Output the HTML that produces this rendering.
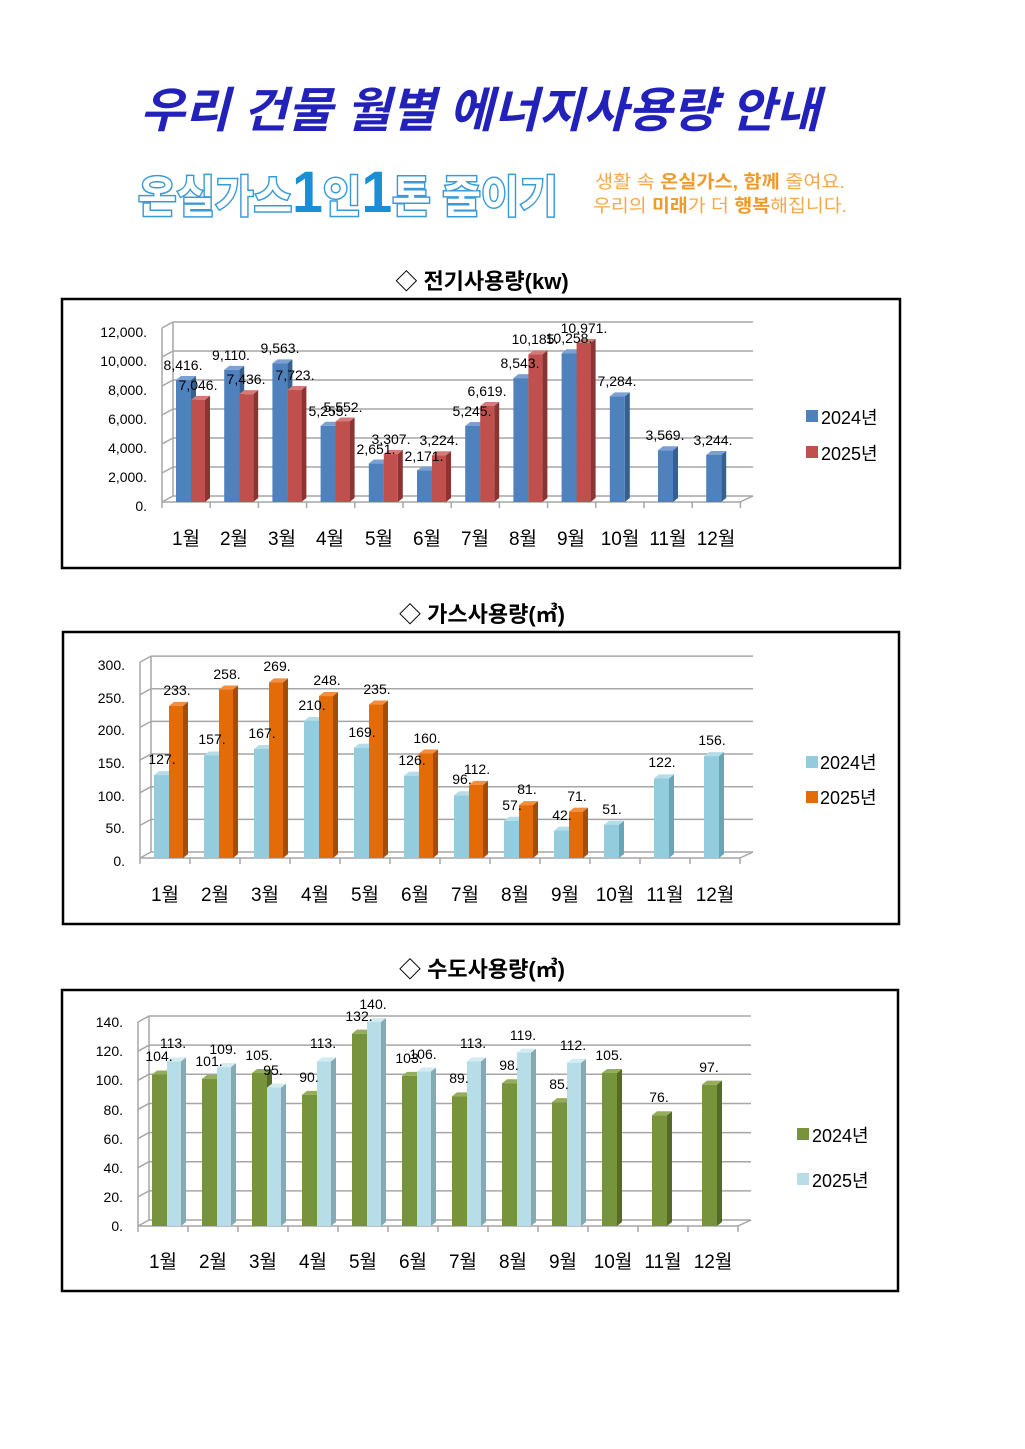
<!DOCTYPE html>
<html><head><meta charset="utf-8">
<style>
body{margin:0;background:#fff;width:1025px;height:1449px;overflow:hidden;font-family:"Liberation Sans","Noto Sans CJK KR",sans-serif}
svg{position:absolute;left:0;top:0}
</style></head><body>
<svg id="s" width="1025" height="1449" viewBox="0 0 1025 1449" font-family="'Liberation Sans','Noto Sans CJK KR',sans-serif">
<text x="480" y="127" text-anchor="middle" font-size="48" font-weight="bold" font-style="italic" fill="#2222bb" textLength="680" lengthAdjust="spacingAndGlyphs">우리 건물 월별 에너지사용량 안내</text>
<text x="348" y="212" text-anchor="middle" font-size="44" font-weight="bold" fill="#fff" stroke="#3a9ad9" stroke-width="3" paint-order="stroke" textLength="420" lengthAdjust="spacingAndGlyphs">온실가스<tspan font-size="58" fill="#1b8fd6" stroke="none">1</tspan>인<tspan font-size="58" fill="#1b8fd6" stroke="none">1</tspan>톤 줄이기</text>
<text x="720" y="188" text-anchor="middle" font-size="18" fill="#f5a94a" textLength="250" lengthAdjust="spacingAndGlyphs">생활 속 <tspan font-weight="bold" fill="#f09a2a">온실가스, 함께</tspan> 줄여요.</text>
<text x="720" y="212" text-anchor="middle" font-size="18" fill="#f5a94a" textLength="254" lengthAdjust="spacingAndGlyphs">우리의 <tspan font-weight="bold" fill="#f09a2a">미래</tspan>가 더 <tspan font-weight="bold" fill="#f09a2a">행복</tspan>해집니다.</text>

<text x="482" y="289" text-anchor="middle" font-size="22" font-weight="bold">◇ 전기사용량(kw)</text>
<text x="482" y="622" text-anchor="middle" font-size="22" font-weight="bold">◇ 가스사용량(㎥)</text>
<text x="482" y="977" text-anchor="middle" font-size="22" font-weight="bold">◇ 수도사용량(㎥)</text>

<rect x="62" y="299" width="838" height="269" fill="none" stroke="#000" stroke-width="2.5"/>
<rect x="63" y="632" width="836" height="292" fill="none" stroke="#000" stroke-width="2.5"/>
<rect x="62" y="990" width="836" height="301" fill="none" stroke="#000" stroke-width="2.5"/>

<g id="g1"></g><g id="g2"></g><g id="g3"></g>

<g font-size="14" text-anchor="end">
<text x="147" y="337">12,000.</text><text x="147" y="366">10,000.</text><text x="147" y="395">8,000.</text><text x="147" y="424">6,000.</text><text x="147" y="453">4,000.</text><text x="147" y="482">2,000.</text><text x="147" y="511">0.</text>
<text x="125" y="670">300.</text><text x="125" y="703">250.</text><text x="125" y="735">200.</text><text x="125" y="768">150.</text><text x="125" y="801">100.</text><text x="125" y="833">50.</text><text x="125" y="866">0.</text>
<text x="123" y="1027">140.</text><text x="123" y="1056">120.</text><text x="123" y="1085">100.</text><text x="123" y="1115">80.</text><text x="123" y="1144">60.</text><text x="123" y="1173">40.</text><text x="123" y="1202">20.</text><text x="123" y="1231">0.</text>
</g>

<g font-size="14" text-anchor="middle">
<text x="183" y="370">8,416.</text><text x="231" y="360">9,110.</text><text x="280" y="353">9,563.</text><text x="328" y="416">5,255.</text><text x="376" y="454">2,651.</text><text x="424" y="461">2,171.</text><text x="472" y="416">5,245.</text><text x="520" y="368">8,543.</text><text x="569" y="343">10,258.</text><text x="617" y="386">7,284.</text><text x="665" y="440">3,569.</text><text x="713" y="445">3,244.</text>
<text x="198" y="390">7,046.</text><text x="246" y="384">7,436.</text><text x="295" y="380">7,723.</text><text x="343" y="412">5,552.</text><text x="391" y="444">3,307.</text><text x="439" y="445">3,224.</text><text x="487" y="396">6,619.</text><text x="535" y="344">10,185.</text><text x="584" y="333">10,971.</text>

<text x="162" y="764">127.</text><text x="212" y="744">157.</text><text x="262" y="738">167.</text><text x="312" y="710">210.</text><text x="362" y="737">169.</text><text x="412" y="765">126.</text><text x="462" y="784">96.</text><text x="512" y="810">57.</text><text x="562" y="820">42.</text><text x="612" y="814">51.</text><text x="662" y="767">122.</text><text x="712" y="745">156.</text>
<text x="177" y="695">233.</text><text x="227" y="679">258.</text><text x="277" y="671">269.</text><text x="327" y="685">248.</text><text x="377" y="694">235.</text><text x="427" y="743">160.</text><text x="477" y="774">112.</text><text x="527" y="794">81.</text><text x="577" y="801">71.</text>

<text x="159" y="1061">104.</text><text x="209" y="1066">101.</text><text x="259" y="1060">105.</text><text x="309" y="1082">90.</text><text x="359" y="1021">132.</text><text x="409" y="1063">103.</text><text x="459" y="1083">89.</text><text x="509" y="1070">98.</text><text x="559" y="1089">85.</text><text x="609" y="1060">105.</text><text x="659" y="1102">76.</text><text x="709" y="1072">97.</text>
<text x="173" y="1048">113.</text><text x="223" y="1054">109.</text><text x="273" y="1075">95.</text><text x="323" y="1048">113.</text><text x="373" y="1009">140.</text><text x="423" y="1059">106.</text><text x="473" y="1048">113.</text><text x="523" y="1040">119.</text><text x="573" y="1050">112.</text>
</g>

<g font-size="19" text-anchor="middle">
<text x="186" y="545">1월</text><text x="234" y="545">2월</text><text x="282" y="545">3월</text><text x="330" y="545">4월</text><text x="379" y="545">5월</text><text x="427" y="545">6월</text><text x="475" y="545">7월</text><text x="523" y="545">8월</text><text x="571" y="545">9월</text><text x="620" y="545">10월</text><text x="668" y="545">11월</text><text x="716" y="545">12월</text>
<text x="165" y="901">1월</text><text x="215" y="901">2월</text><text x="265" y="901">3월</text><text x="315" y="901">4월</text><text x="365" y="901">5월</text><text x="415" y="901">6월</text><text x="465" y="901">7월</text><text x="515" y="901">8월</text><text x="565" y="901">9월</text><text x="615" y="901">10월</text><text x="665" y="901">11월</text><text x="715" y="901">12월</text>
<text x="163" y="1268">1월</text><text x="213" y="1268">2월</text><text x="263" y="1268">3월</text><text x="313" y="1268">4월</text><text x="363" y="1268">5월</text><text x="413" y="1268">6월</text><text x="463" y="1268">7월</text><text x="513" y="1268">8월</text><text x="563" y="1268">9월</text><text x="613" y="1268">10월</text><text x="663" y="1268">11월</text><text x="713" y="1268">12월</text>
</g>

<g font-size="18">
<rect x="806" y="410" width="12" height="12" fill="#4f81bd"/><text x="821" y="424">2024년</text>
<rect x="806" y="446" width="12" height="12" fill="#c0504d"/><text x="821" y="460">2025년</text>
<rect x="806" y="756" width="12" height="12" fill="#93cddd"/><text x="820" y="769">2024년</text>
<rect x="806" y="791" width="12" height="12" fill="#e36c09"/><text x="820" y="804">2025년</text>
<rect x="797" y="1128" width="12" height="12" fill="#77933c"/><text x="812" y="1142">2024년</text>
<rect x="797" y="1173" width="12" height="12" fill="#b7dee8"/><text x="812" y="1187">2025년</text>
</g>
</svg>
<script>
var NS="http://www.w3.org/2000/svg";
function el(g,t,a){var e=document.createElementNS(NS,t);for(var k in a)e.setAttribute(k,a[k]);g.appendChild(e);}
function chart(id,x0,x1,base,k,max,step,gw,d1,d2,c1,c2){
 var g=document.getElementById(id),dx=11,dy=-6,n=12;
 for(var v=0;v<=max;v+=step){var y=base-v*k;
  el(g,"line",{x1:x0+dx,y1:y+dy,x2:x1+dx+2,y2:y+dy,stroke:"#a6a6a6","stroke-width":1.5});
  el(g,"line",{x1:x0,y1:y,x2:x0+dx,y2:y+dy,stroke:"#a6a6a6","stroke-width":1.5});}
 el(g,"line",{x1:x0+dx,y1:base+dy,x2:x0+dx,y2:base-max*k+dy,stroke:"#a6a6a6","stroke-width":1.5});
 el(g,"line",{x1:x0,y1:base,x2:x0,y2:base-max*k,stroke:"#a6a6a6","stroke-width":1.5});
 el(g,"line",{x1:x0,y1:base,x2:x1,y2:base,stroke:"#a6a6a6","stroke-width":1.5});
 el(g,"line",{x1:x1,y1:base,x2:x1+dx+2,y2:base+dy,stroke:"#a6a6a6","stroke-width":1.5});
 for(var i=0;i<=n;i++){var x=x0+gw*i;el(g,"line",{x1:x,y1:base,x2:x,y2:base+6,stroke:"#a6a6a6","stroke-width":1.5});}
 function bar(x,w,v,c){var h=v*k,t=base-h,bx=5,by=-4;
  el(g,"polygon",{points:(x+w)+","+base+" "+(x+w+bx)+","+(base+by)+" "+(x+w+bx)+","+(t+by)+" "+(x+w)+","+t,fill:c[1]});
  el(g,"polygon",{points:x+","+t+" "+(x+bx)+","+(t+by)+" "+(x+w+bx)+","+(t+by)+" "+(x+w)+","+t,fill:c[2]});
  el(g,"rect",{x:x,y:t,width:w,height:h,fill:c[0]});}
 for(var i=0;i<n;i++){var gx=x0+gw*i+14;
  bar(gx,15,d1[i],c1);
  if(i<d2.length)bar(gx+15,14,d2[i],c2);}
}
chart("g1",162,740,502,0.0145,12000,2000,48.2,[8416,9110,9563,5255,2651,2171,5245,8543,10258,7284,3569,3244],[7046,7436,7723,5552,3307,3224,6619,10185,10971],["#4f81bd","#35608f","#7ba0d4"],["#c0504d","#8c3432","#d47a78"]);
chart("g2",140,740,858,0.653,300,50,50,[127,157,167,210,169,126,96,57,42,51,122,156],[233,258,269,248,235,160,112,81,71],["#93cddd","#6aa5b6","#b4dde9"],["#e36c09","#a64d05","#f28e3d"]);
chart("g3",138,738,1226,1.457,140,20,50,[104,101,105,90,132,103,89,98,85,105,76,97],[113,109,95,113,140,106,113,119,112],["#77933c","#546b28","#93ad5a"],["#b7dee8","#86aab4","#d2ecf2"]);
</script>
</body></html>
